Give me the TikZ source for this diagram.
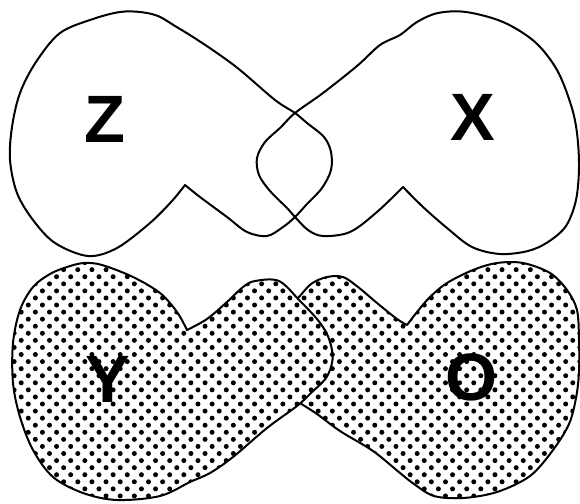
\documentclass[tikz,border=0pt]{standalone}
\usepackage{fontspec}
\setmainfont{Liberation Sans}
\usetikzlibrary{patterns.meta}
\tikzset{
  outline/.style={draw=black, line width=2pt, line join=round},
  dotfill/.style={preaction={fill=white}, pattern={Dots[radius=2.5pt, distance=10pt, angle=45]}},
  letter/.style={font=\fontsize{67}{67}\selectfont\bfseries, inner sep=0pt}
}
\begin{document}
\begin{tikzpicture}[x=1pt,y=-1pt]
\useasboundingbox (0,0) rectangle (580,503);
% Z shape (outline)
\draw[outline] plot[smooth, tension=0.55] coordinates {
 (185,185) (200,197) (227,217) (247,232) (267,236) (283,227) (295,217)
 (307,204) (322,188) (331,170) (331,152) (324,137) (307,123) (295,113)
 (275,100) (240,70) (217,53) (193,37) (175,26) (158,16) (140,12) (120,12)
 (93,19) (60,33) (36,62) (20,93) (12,127) (10,160) (17,193) (33,220)
 (55,243) (88,256) (117,248) (150,223) (172,201) (185,185)} -- cycle;
% X shape (outline)
\draw[outline] plot[smooth, tension=0.55] coordinates {
 (403,187) (423,207) (447,228) (472,247) (500,254) (528,251) (548,242)
 (566,226) (576,200) (579,167) (577,133) (571,105) (557,70) (535,42)
 (503,22) (466,12) (438,13) (417,22) (400,35) (380,45) (357,66) (323,93)
 (295,113) (280,128) (265,142) (257,158) (259,175) (270,191) (287,208)
 (295,217) (308,230) (323,236) (350,232) (377,212) (403,187)} -- cycle;
% O shape (dotted)
\draw[outline, dotfill] plot[smooth, tension=0.55] coordinates {
 (407,325) (417,312) (430,297) (447,283) (473,270) (497,263) (523,263)
 (550,273) (567,290) (577,310) (579,340) (579,372) (576,398) (569,424)
 (553,450) (530,476) (497,492) (463,498) (434,496) (414,484) (400,473)
 (373,451) (340,431) (317,414) (300,403) (278,388) (264,365) (263,340)
 (277,316) (297,299) (311,284) (327,277) (343,277) (358,287) (377,303)
 (397,319) (407,325)} -- cycle;
% Y shape (dotted, on top)
\draw[outline, dotfill] plot[smooth, tension=0.55] coordinates {
 (187,330) (207,319) (227,302) (243,287) (255,281) (279,281) (300,301)
 (317,319) (327,334) (332,350) (332,363) (326,378) (311,393) (297,406)
 (267,428) (233,457) (210,473) (190,482) (160,496) (117,500) (83,493)
 (53,477) (33,450) (20,417) (13,383) (13,343) (20,310) (33,287) (50,274)
 (67,267) (84,263) (102,265) (133,277) (160,293) (177,312) (187,330)} -- cycle;
% letters
\node[letter] (z) at (105,119) {Z};
\node[letter] (x) at (473,117.5) {X};
\node[letter] (y) at (107.5,379) {Y};
\node[letter] (o) at (471.5,377.5) {O};
\end{tikzpicture}
\end{document}
